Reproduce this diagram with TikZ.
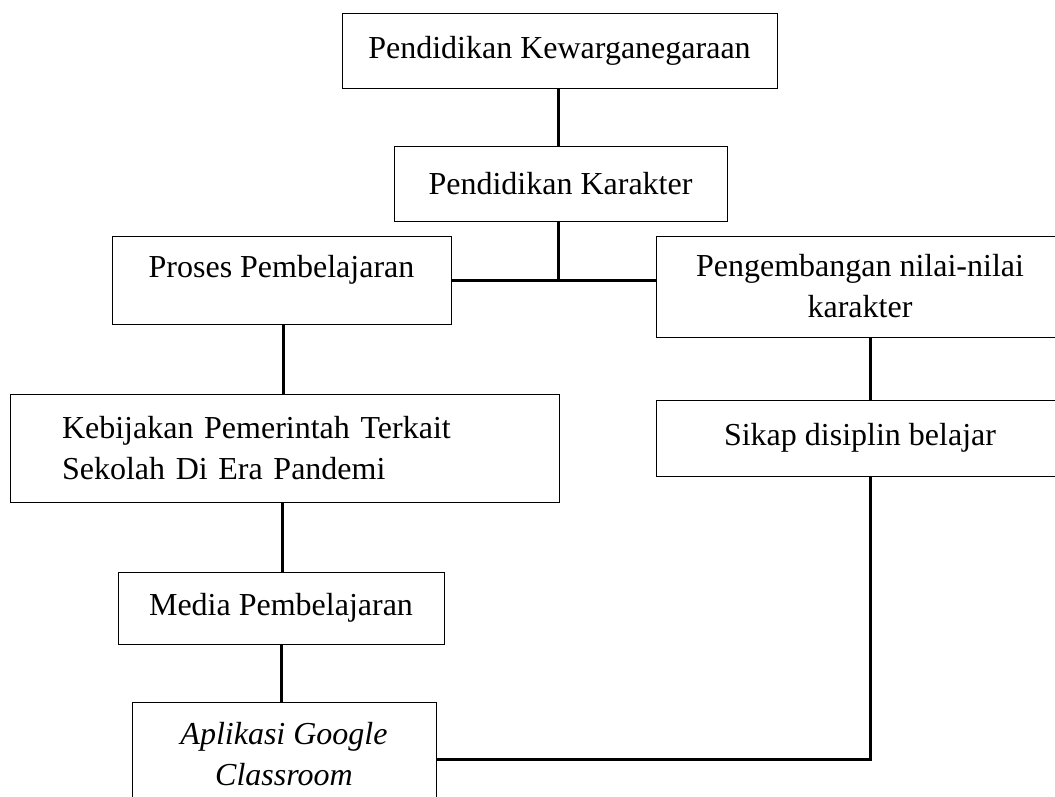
\documentclass[tikz,border=0pt]{standalone}
\usepackage{fontspec}
\setmainfont{Liberation Serif}
\newcommand{\hurufbesar}{\fontsize{32}{41}\selectfont}
\tikzset{
  kotak/.style={draw,line width=1pt,inner sep=0pt,align=center,font=\hurufbesar},
  garis/.style={line width=3pt}
}
\begin{document}
\begin{tikzpicture}[x=1pt,y=-1pt]
\useasboundingbox (0,0) rectangle (1055,796);

\node[kotak,minimum width=435pt,minimum height=75pt] (kew) at (559.5,50.5) {Pendidikan Kewarganegaraan};
\node[kotak,minimum width=333pt,minimum height=75pt] (kar) at (560.5,183.5) {Pendidikan Karakter};
\node[kotak,minimum width=339pt,minimum height=88pt,text height=22pt,text depth=28pt] (proses) at (281.5,280) {Proses Pembelajaran};
\node[kotak,minimum width=408pt,minimum height=101pt] (peng) at (860,286.5) {Pengembangan nilai-nilai\\karakter};
\node[kotak,minimum width=549pt,minimum height=108pt,text width=445pt,inner xsep=52pt,align=left] (keb) at (284.5,448) {Kebijakan Pemerintah Terkait\\Sekolah Di Era Pandemi};
\node[kotak,minimum width=408pt,minimum height=76pt] (sikap) at (860,438) {Sikap disiplin belajar};
\node[kotak,minimum width=326pt,minimum height=72pt] (media) at (281,608) {Media Pembelajaran};
\node[kotak,minimum width=304pt,minimum height=105pt,font=\hurufbesar\itshape] (app) at (284,754.5) {Aplikasi Google\\Classroom};

% garis penghubung
\draw[garis] ([xshift=-1.5pt]kew.south) -- ([xshift=-2.5pt]kar.north);
\draw[garis] ([xshift=-2.5pt]kar.south) -- ([xshift=-2.5pt]kar.south |- proses.east);
\draw[garis] (proses.east) -- (peng.west |- proses.east);
\draw[garis] ([xshift=1.5pt]proses.south) -- ([xshift=1.5pt]proses.south |- keb.north);
\draw[garis] ([xshift=-2.5pt]keb.south) -- ([xshift=-2.5pt]keb.south |- media.north);
\draw[garis] (media.south) -- (media.south |- app.north);
\draw[garis] ([xshift=10pt]peng.south) -- ([xshift=10pt]sikap.north);
\draw[garis] ([xshift=10pt]sikap.south) |- ([yshift=-4.5pt]app.east);
\end{tikzpicture}
\end{document}
